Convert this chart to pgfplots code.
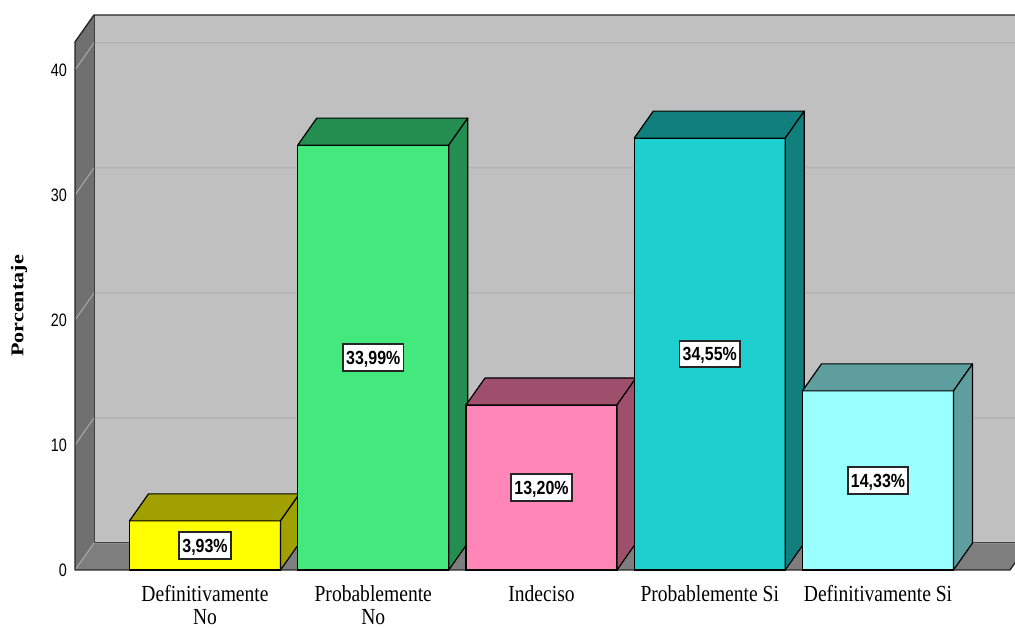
\documentclass[border=0pt]{standalone}
\usepackage{fontspec}
\usepackage{pgfplots}
\pgfplotsset{compat=1.18}
\usetikzlibrary{calc}

\setmainfont{Liberation Serif}
\newfontfamily\catfont[FakeStretch=0.85]{Liberation Serif}
\newfontfamily\ylabfont[FakeStretch=1.23]{Liberation Serif}
\newfontfamily\tickfont[FakeStretch=0.8]{Liberation Sans}
\newfontfamily\valfont[FakeStretch=0.84]{Liberation Sans}

% wall and bar colours
\definecolor{backwall}{HTML}{C0C0C0}
\definecolor{sidewall}{HTML}{707070}
\definecolor{floorcol}{HTML}{7E7E7E}
\definecolor{gridcol}{HTML}{ABABAB}
\definecolor{yelF}{HTML}{FFFF00}\definecolor{yelD}{HTML}{A0A000}
\definecolor{grnF}{HTML}{43E97D}\definecolor{grnD}{HTML}{248E50}
\definecolor{pnkF}{HTML}{FF86B6}\definecolor{pnkD}{HTML}{9D4F6B}
\definecolor{tealF}{HTML}{1ECFCF}\definecolor{tealD}{HTML}{117F7D}
\definecolor{cyanF}{HTML}{99FFFF}\definecolor{cyanD}{HTML}{5F9E9E}

% axis limits of the front plane
\def\xa{-0.7727}
\def\xb{4.7845}
\def\yt{42.24}

% one box-shaped bar: category position, value, front colour, shaded colour
\newcommand\boxbar[4]{%
  \addplot[ybar, bar width=151pt, fill=#3, draw=black, line width=1.2pt]
    coordinates {(#1,#2)};
  \filldraw[fill=#4, draw=black, line width=1.2pt, line join=round]
    ($(axis cs:#1,#2)+(-75.5pt,0pt)$) -- ($(axis cs:#1,#2)+(-56.5pt,27pt)$)
    -- ($(axis cs:#1,#2)+(94.5pt,27pt)$) -- ($(axis cs:#1,#2)+(75.5pt,0pt)$) -- cycle;
  \filldraw[fill=#4, draw=black, line width=1.2pt, line join=round]
    ($(axis cs:#1,#2)+(75.5pt,0pt)$) -- ($(axis cs:#1,#2)+(94.5pt,27pt)$)
    -- ($(axis cs:#1,0)+(94.5pt,27pt)$) -- ($(axis cs:#1,0)+(75.5pt,0pt)$) -- cycle;
}

\begin{document}
\begin{tikzpicture}[x=1pt,y=1pt]
\useasboundingbox (0,0) rectangle (1015,628);
\clip (0,0) rectangle (1015,628);
\begin{axis}[
  at={(75pt,58pt)}, anchor=south west,
  scale only axis, width=935pt, height=528pt,
  xmin=\xa, xmax=\xb, ymin=0, ymax=\yt,
  clip=false,
  axis line style={draw=none},
  major tick length=0pt,
  /pgf/number format/assume math mode=true,
  ytick={0,10,20,30,40},
  yticklabel style={font=\tickfont\fontsize{18}{18}\selectfont, inner sep=0pt, xshift=-8pt},
  xtick={0,1,2,3,4},
  xticklabels={{Definitivamente\\No},{Probablemente\\No},Indeciso,Probablemente Si,Definitivamente Si},
  xticklabel style={font=\catfont\fontsize{23}{23}\selectfont, align=center, inner sep=0pt, yshift=-15pt},
  ylabel={Porcentaje},
  every axis y label/.style={at={(axis description cs:-0.0599,0.5)}, rotate=90, anchor=center,
    font=\ylabfont\bfseries\fontsize{18}{18}\selectfont},
  nodes near coords={\pgfmathprintnumber[fixed,fixed zerofill,precision=2,use comma]{\pgfplotspointmeta}\%},
  visualization depends on={rawy \as \rawyval},
  every node near coord/.append style={
    font=\valfont\bfseries\fontsize{19}{19}\selectfont,
    anchor=center, yshift={-6.25*\rawyval*1pt},
    fill=white, draw=black!85, line width=1.8pt,
    text height=13.6pt, text depth=0pt, inner xsep=3.2pt, inner ysep=6.4pt},
]
% back wall, left wall and floor
\fill[backwall] ($(axis cs:\xa,0)+(19pt,27pt)$) rectangle ($(axis cs:\xb,\yt)+(19pt,27pt)$);
\fill[sidewall] (axis cs:\xa,0) -- (axis cs:\xa,\yt) -- ($(axis cs:\xa,\yt)+(19pt,27pt)$)
  -- ($(axis cs:\xa,0)+(19pt,27pt)$) -- cycle;
\fill[floorcol] (axis cs:\xa,0) -- (axis cs:\xb,0) -- ($(axis cs:\xb,0)+(19pt,27pt)$)
  -- ($(axis cs:\xa,0)+(19pt,27pt)$) -- cycle;
% grid lines bent round the left wall
\pgfplotsinvokeforeach{0,10,20,30,40}{
  \draw[gridcol, line width=1pt] (axis cs:\xa,#1) -- ($(axis cs:\xa,#1)+(19pt,27pt)$)
    -- ($(axis cs:\xb,#1)+(19pt,27pt)$);
}
% frame edges
\draw[black!75, line width=1pt] ($(axis cs:\xa,\yt)+(19pt,27pt)$) -- ($(axis cs:\xa,0)+(19pt,27pt)$)
  -- ($(axis cs:\xb,0)+(19pt,27pt)$);
\draw[black!85, line width=1.4pt, line join=round]
  ($(axis cs:\xb,0)+(19pt,27pt)$) -- (axis cs:\xb,0) -- (axis cs:\xa,0) -- (axis cs:\xa,\yt)
  -- ($(axis cs:\xa,\yt)+(19pt,27pt)$) -- ($(axis cs:\xb,\yt)+(19pt,27pt)$);
% bars
\boxbar{0}{3.93}{yelF}{yelD}
\boxbar{1}{33.99}{grnF}{grnD}
\boxbar{2}{13.20}{pnkF}{pnkD}
\boxbar{3}{34.55}{tealF}{tealD}
\boxbar{4}{14.33}{cyanF}{cyanD}
\end{axis}
\end{tikzpicture}
\end{document}
